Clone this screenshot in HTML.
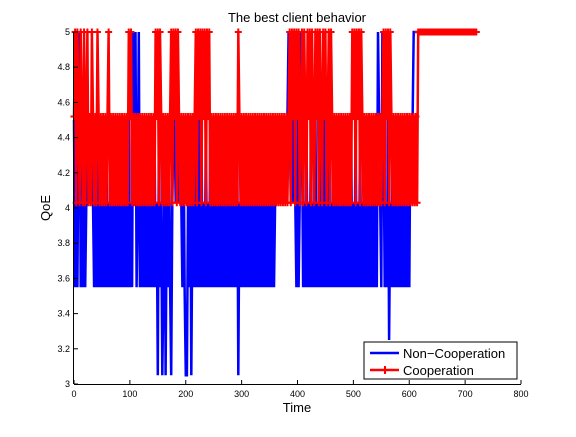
<!DOCTYPE html>
<html><head><meta charset="utf-8"><style>
body{margin:0;background:#fff;}
svg text{font-family:"Liberation Sans",sans-serif;}
</style></head><body>
<svg id="chart" width="576" height="432" viewBox="0 0 576 432" xmlns="http://www.w3.org/2000/svg">
<rect width="576" height="432" fill="#fff"/>
<g id="plot"></g>
<g id="axes"></g>
<text x="297" y="22" font-size="13" text-anchor="middle">The best client behavior</text>
<text x="297" y="412" font-size="13" text-anchor="middle">Time</text>
<text x="0" y="0" font-size="13" text-anchor="middle" transform="translate(50,208) rotate(-90)">QoE</text>
<g>
<rect x="364" y="342" width="153" height="37" fill="#fff" stroke="#000" stroke-width="1"/>
<line x1="370" y1="353" x2="399" y2="353" stroke="#0000ff" stroke-width="2.5"/>
<text x="403" y="358" font-size="13">Non−Cooperation</text>
<line x1="370" y1="370" x2="399" y2="370" stroke="#ff0000" stroke-width="2.5"/>
<line x1="385" y1="366" x2="385" y2="374" stroke="#ff0000" stroke-width="2"/>
<text x="403" y="375" font-size="13">Cooperation</text>
</g>
</svg>
<script>
const step = 2;
const xTicks = [0,100,200,300,400,500,600,700,800];
const yTicks = [3,3.2,3.4,3.6,3.8,4,4.2,4.4,4.6,4.8,5];
const yTickLabels = ["3","3.2","3.4","3.6","3.8","4","4.2","4.4","4.6","4.8","5"];
const blueLevels = [3.55,4.03,4.5,5,3.05,3.25];
const redLevels = [4.03,4.52,5];
const blueCodes = [
2,0,1,0,2,3,0,1,0,2, 0,1,2,1,2,1,2,1,0,1, 0,2,0,1,0,2,0,1,0,2, 0,1,0,2,0,1,0,2,0,1,
0,2,0,1,0,2,0,1,0,2, 0,1,0,3,2,3,0,1,3,0, 2,0,1,0,2,0,1,0,2,0, 1,0,2,0,1,4,2,0,1,4,
0,2,4,1,0,2,0,4,1,2, 2,1,2,1,2,1,1,0,2,0, 4,4,1,0,2,4,1,0,2,0, 1,0,3,0,2,0,1,0,2,0,
1,0,2,0,1,0,2,0,1,0, 2,0,1,0,2,0,1,0,2,0, 1,0,2,0,1,0,2,4,1,0, 2,0,1,0,2,0,1,0,2,0,
1,0,2,0,1,0,2,0,1,0, 2,0,1,0,2,0,1,0,2,0, 1,2,1,2,1,2,1,2,1,2, 1,2,3,2,1,2,1,2,1,0,
2,0,1,3,2,0,1,0,2,0, 1,0,2,0,1,0,2,0,1,0, 2,0,1,0,2,0,1,0,2,0, 1,0,2,0,1,0,2,0,1,0,
2,0,1,0,2,0,1,0,2,0, 1,0,2,0,1,0,2,0,1,0, 2,0,1,0,2,0,1,0,2,0, 1,0,3,2,1,0,3,2,0,1,
0,2,5,1,0,2,0,1,0,2, 0,1,0,2,0,1,0,2,0,1, 0,2,1,2,3,3,3,3,3,3];
const redCodes = [
1,2,0,2,1,0,2,1,0,2, 0,1,2,0,1,0,2,1,0,1, 0,2,1,0,1,0,1,0,1,0, 1,2,0,1,0,1,0,1,0,1,
0,1,0,1,0,1,0,1,0,2, 1,2,0,1,0,1,0,1,0,1, 0,1,0,1,0,1,0,1,0,1, 0,1,0,2,1,2,0,2,1,0,
1,0,1,0,1,0,1,2,0,2, 1,2,0,2,1,0,1,0,1,0, 1,0,1,0,1,0,1,0,1,2, 0,2,1,2,0,2,1,2,0,2,
1,2,0,1,0,1,0,1,0,1, 0,1,0,1,0,1,0,1,0,1, 0,1,0,1,0,1,0,2,1,0, 1,0,1,0,1,0,1,0,1,0,
1,0,1,0,1,0,1,0,1,0, 1,0,1,0,1,0,1,0,1,0, 1,0,1,0,1,0,1,0,1,0, 1,0,1,2,0,2,1,2,0,2,
1,2,0,1,2,0,2,1,0,2, 1,2,0,2,1,0,2,1,2,0, 2,1,0,2,1,2,0,1,2,0, 2,1,0,1,0,1,0,1,0,1,
0,1,0,1,0,1,0,1,0,2, 1,2,0,2,1,2,0,2,1,0, 1,0,1,0,1,0,1,0,1,0, 1,0,1,0,1,0,1,2,0,2,
1,2,0,2,1,0,1,0,1,0, 1,0,1,0,1,0,1,0,1,0, 1,0,1,0,1,0,1,0,2,2,
2,2,2,2,2,2,2,2,2,2, 2,2,2,2,2,2,2,2,2,2, 2,2,2,2,2,2,2,2,2,2, 2,2,2,2,2,2,2,2,2,2, 2,2,2,2,2,2,2,2,2,2, 2];
const blueValues = blueCodes.map(c=>blueLevels[c]);
const redValues = redCodes.map(c=>redLevels[c]);

const X0=74, X1=521, Y0=384, Y1=32;
function xs(t){return X0+(t/800)*(X1-X0);}
function ys(v){return Y0-((v-3)/2)*(Y0-Y1);}
const NS="http://www.w3.org/2000/svg";
const plot=document.getElementById('plot');
const axes=document.getElementById('axes');

function drawLine(vals,color,name){
  const pts=vals.map((v,i)=>xs(i*step).toFixed(1)+','+ys(v).toFixed(1)).join(' ');
  const pl=document.createElementNS(NS,'polyline');
  pl.setAttribute('points',pts);
  pl.setAttribute('fill','none');
  pl.setAttribute('stroke',color);
  pl.setAttribute('stroke-width','2.5');
  
  
  plot.appendChild(pl);
}
drawLine(blueValues,'#0000ff','non-cooperation-line');
drawLine(redValues,'#ff0000','cooperation-line');
redValues.forEach((v,i)=>{
  const x=xs(i*step), y=ys(v);
  const p=document.createElementNS(NS,'path');
  p.setAttribute('d',`M${x-3.5},${y}H${x+3.5}M${x},${y-3.5}V${y+3.5}`);
  p.setAttribute('stroke','#ff0000');
  p.setAttribute('stroke-width','2');
  
  
  plot.appendChild(p);
});

function ln(x1,y1,x2,y2){
  const l=document.createElementNS(NS,'line');
  l.setAttribute('x1',x1);l.setAttribute('y1',y1);l.setAttribute('x2',x2);l.setAttribute('y2',y2);
  l.setAttribute('stroke','#000');l.setAttribute('stroke-width','1');
  
  
  axes.appendChild(l);
}
ln(X0,Y0+0.5,X1,Y0+0.5);
ln(X0-0.5,Y1,X0-0.5,Y0);
xTicks.forEach(t=>{
  const x=xs(t);
  ln(x,Y0,x,Y0-4);
  const tx=document.createElementNS(NS,'text');
  tx.setAttribute('x',x);tx.setAttribute('y',Y0+13);
  tx.setAttribute('font-size','9');tx.setAttribute('text-anchor','middle');
  
  
  tx.textContent=t;axes.appendChild(tx);
});
yTicks.forEach((v,i)=>{
  const y=ys(v);
  ln(X0,y,X0+4,y);
  const tx=document.createElementNS(NS,'text');
  tx.setAttribute('x',X0-4);tx.setAttribute('y',y+3);
  tx.setAttribute('font-size','9');tx.setAttribute('text-anchor','end');
  
  
  tx.textContent=yTickLabels[i];axes.appendChild(tx);
});
</script>
</body></html>
